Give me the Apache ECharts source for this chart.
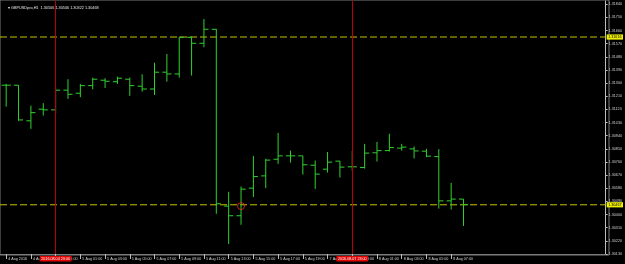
<!DOCTYPE html>
<html><head><meta charset="utf-8">
<script src="https://cdn.jsdelivr.net/npm/echarts@6/dist/echarts.min.js"></script>
<style>html,body{margin:0;padding:0;background:#000;}#c{width:625px;height:264px;}</style>
</head><body><div id="c"></div>
<script>
const symbolName = 'GBPUSDpro,H1';
const times = [
  '4 Aug 19:00','4 Aug 20:00','4 Aug 21:00','4 Aug 22:00','4 Aug 23:00',
  '5 Aug 00:00','5 Aug 01:00','5 Aug 02:00','5 Aug 03:00','5 Aug 04:00','5 Aug 05:00',
  '5 Aug 06:00','5 Aug 07:00','5 Aug 08:00','5 Aug 09:00','5 Aug 10:00','5 Aug 11:00',
  '5 Aug 12:00','5 Aug 13:00','5 Aug 14:00','5 Aug 15:00','5 Aug 16:00','5 Aug 17:00',
  '5 Aug 18:00','5 Aug 19:00','5 Aug 20:00',
  '7 Aug 21:00','7 Aug 22:00','7 Aug 23:00',
  '8 Aug 00:00','8 Aug 01:00','8 Aug 02:00','8 Aug 03:00','8 Aug 04:00','8 Aug 05:00',
  '8 Aug 06:00','8 Aug 07:00','8 Aug 08:00'
];
const futureSlots = ['8 Aug 09:00','8 Aug 10:00','8 Aug 11:00','8 Aug 12:00','8 Aug 13:00',
  '8 Aug 14:00','8 Aug 15:00','8 Aug 16:00','8 Aug 17:00','8 Aug 18:00','8 Aug 19:00'];
const firstLabel = '4 Aug 2016';
const opens  = [1.31286,1.31286,1.31042,1.31122,1.31117,1.31252,1.31231,1.31283,1.31320,1.31310,
  1.31327,1.31279,1.31260,1.31375,1.31363,1.31614,1.31573,1.31669,1.30458,1.30392,
  1.30581,1.30665,1.30779,1.30802,1.30802,1.30738,1.30711,1.30766,1.30727,1.30722,
  1.30823,1.30838,1.30855,1.30850,1.30834,1.30797,1.30494,1.30506];
const highs  = [1.31295,1.31286,1.31146,1.31163,1.31272,1.31327,1.31295,1.31338,1.31334,1.31345,
  1.31338,1.31361,1.31440,1.31500,1.31618,1.31618,1.31739,1.31671,1.30556,1.30592,
  1.30802,1.30782,1.30959,1.30838,1.30802,1.30770,1.30829,1.30768,1.30836,1.30884,
  1.30898,1.30953,1.30884,1.30866,1.30850,1.30848,1.30617,1.30506];
const lows   = [1.31139,1.31042,1.30987,1.31078,1.31094,1.31192,1.31204,1.31258,1.31267,1.31295,
  1.31213,1.31242,1.31219,1.31310,1.31338,1.31352,1.31546,1.30405,1.30198,1.30330,
  1.30520,1.30581,1.30747,1.30756,1.30674,1.30576,1.30688,1.30654,1.30699,1.30715,
  1.30763,1.30832,1.30838,1.30784,1.30793,1.30441,1.30435,1.30322];
const closes = [1.31286,1.31048,1.31098,1.31117,1.31252,1.31224,1.31283,1.31327,1.31313,1.31334,
  1.31283,1.31260,1.31375,1.31363,1.31614,1.31573,1.31669,1.30474,1.30392,1.30574,
  1.30660,1.30773,1.30802,1.30802,1.30741,1.30677,1.30759,1.30725,1.30727,1.30821,
  1.30838,1.30859,1.30862,1.30836,1.30800,1.30494,1.30506,1.30468];
const priceMin = 1.30130, priceMax = 1.318626, priceStep = 0.0009;
const hLevels = [1.31616, 1.30467];
const vLineTimes = ['4 Aug 23:00', '7 Aug 23:00'];
const vLineLabels = ['2016.08.04 23:00', '2016.08.07 23:00'];
const markerTime = '5 Aug 14:00', markerPrice = 1.30458;

const barColor = '#2fd22f';
const fmt = v => v.toFixed(5);
const last = times.length - 1;
const categories = times.concat(futureSlots);
const headerText = '\u25BE ' + symbolName + '  ' + fmt(opens[last]) + ' ' + fmt(highs[last]) + ' ' + fmt(lows[last]) + ' ' + fmt(closes[last]);

function renderItem(params, api) {
  const x = api.value(0);
  const o = api.coord([x, api.value(1)]);
  const h = api.coord([x, api.value(2)]);
  const l = api.coord([x, api.value(3)]);
  const c = api.coord([x, api.value(4)]);
  const w = api.size([1, 0])[0] * 0.37;
  const style = { stroke: barColor, lineWidth: 1 };
  return { type: 'group', children: [
    { type: 'line', shape: { x1: h[0], y1: h[1], x2: l[0], y2: l[1] }, style },
    { type: 'line', shape: { x1: o[0] - w, y1: o[1], x2: o[0], y2: o[1] }, style },
    { type: 'line', shape: { x1: c[0], y1: c[1], x2: c[0] + w, y2: c[1] }, style }
  ]};
}

const chart = echarts.init(document.getElementById('c'), null, { renderer: 'canvas' });
const labelShown = (i) => i % 2 === 0 && i <= last;
const smallFont = { fontSize: 3.7, fontFamily: 'Liberation Sans' };
const hLineSeries = hLevels.map((v, k) => ({
  type: 'line', name: 'level' + k, xAxisIndex: 2, yAxisIndex: 0, data: [[0, v], [1, v]],
  symbol: 'none', silent: true, z: 1,
  lineStyle: { color: '#c3c300', type: [7, 3], width: 1 },
  endLabel: Object.assign({ show: true, distance: 1, formatter: fmt(v), backgroundColor: '#f0f000', color: '#000', padding: [0.6, 1.5] }, smallFont)
}));
chart.setOption({
  backgroundColor: '#000',
  animation: false,
  title: { text: headerText, left: 3, top: 1, textStyle: { fontSize: 3.8, color: '#e6e6e6', fontWeight: 'normal', fontFamily: 'Liberation Sans' } },
  grid: [
    { left: -5.3, right: 16, top: 1, bottom: 10 },
    { left: 0, right: 16, top: 0, bottom: 9, show: true, borderColor: '#7a7a7a', borderWidth: 1, backgroundColor: 'transparent' }
  ],
  xAxis: [
    { type: 'category', data: categories, boundaryGap: true, gridIndex: 0,
      axisLine: { show: true, onZero: false, lineStyle: { color: '#7a7a7a', width: 1 } },
      axisTick: { show: true, alignWithLabel: true, length: 5, interval: (i) => labelShown(i), lineStyle: { color: '#bdbdbd' } },
      axisLabel: Object.assign({ interval: (i) => labelShown(i), align: 'left', margin: 2.5, padding: [0, 0, 0, 2],
        color: '#d0d0d0', formatter: (v, i) => i === 0 ? firstLabel : v }, smallFont),
      splitLine: { show: false } },
    { type: 'value', gridIndex: 1, show: false },
    { type: 'value', gridIndex: 0, min: 0, max: 1, show: false, position: 'top' }
  ],
  yAxis: [
    { type: 'value', position: 'right', gridIndex: 0, min: priceMin, max: priceMax, interval: priceStep,
      axisLine: { show: true, onZero: false, lineStyle: { color: '#bdbdbd', width: 1 } },
      axisTick: { show: true, length: 2, lineStyle: { color: '#bdbdbd' } },
      axisLabel: Object.assign({ margin: 3, color: '#d0d0d0', showMaxLabel: false, formatter: v => fmt(v) }, smallFont),
      splitLine: { show: false } },
    { type: 'value', gridIndex: 1, show: false }
  ],
  series: hLineSeries.concat([
    { type: 'custom', name: 'bars', xAxisIndex: 0, yAxisIndex: 0, renderItem, z: 2,
      data: times.map((t, i) => [i, opens[i], highs[i], lows[i], closes[i]]),
      markLine: { silent: true, symbol: ['none', 'none'], animation: false,
        lineStyle: { color: '#b80000', type: 'solid', width: 1 },
        label: Object.assign({ show: true, position: 'start', distance: 2, backgroundColor: '#e00000', color: '#fff', padding: [0.8, 1.5] }, smallFont),
        data: vLineTimes.map((t, k) => ({ xAxis: t, label: { formatter: vLineLabels[k] } }))
      } },
    { type: 'scatter', name: 'marker', xAxisIndex: 0, yAxisIndex: 0, data: [[markerTime, markerPrice]], z: 3,
      symbol: 'circle', symbolSize: 7, itemStyle: { color: 'rgba(0,0,0,0)', borderColor: '#ff2a2a', borderWidth: 1 } }
  ])
});
</script></body></html>
